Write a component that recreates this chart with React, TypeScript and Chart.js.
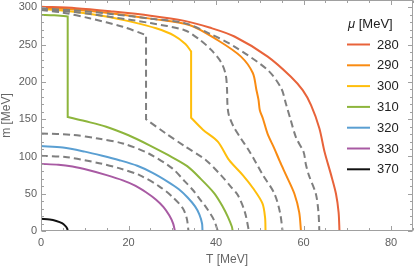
import React, { useEffect, useRef } from "react";
import { Chart, registerables } from "chart.js";

Chart.register(...registerables);

// mu values shown in the legend
const muLabels = ["280", "290", "300", "310", "320", "330", "370"];
const muColors = ["#E8633A", "#F98B12", "#FFBE0B", "#8DB53C", "#5A9FD2", "#A85AA3", "#111111"];

// x tick labels / y tick labels
const xTicks = [0, 20, 40, 60, 80];
const yTicks = [0, 50, 100, 150, 200, 250, 300];

// solid curves: [T (MeV), m (MeV)]
const curve280: [number, number][] = [
  [0, 301], [8, 299], [16.4, 294.5], [25, 289], [32.8, 282], [38.5, 273], [44.2, 261],
  [51.8, 234], [57.1, 207], [59.8, 189], [61.7, 169], [63.6, 138], [64.8, 106],
  [66.3, 75], [67.4, 50], [68, 25], [68.2, 0],
];
const curve290: [number, number][] = [
  [0, 299.5], [8, 297], [16.3, 292], [25, 285], [33.9, 276.5], [40.4, 256], [45.7, 234],
  [48.4, 212], [49.2, 190], [49.7, 176], [50, 162], [50.7, 151], [51.8, 130],
  [53.3, 111], [54.6, 93], [56, 75], [57.9, 50], [59, 25], [59.4, 0],
];
const curve300: [number, number][] = [
  [0, 298], [8, 294], [14.9, 288], [20.5, 281], [26.3, 272], [30.5, 262], [33, 251],
  [34.3, 241], [34.3, 152], [37, 136], [40.4, 120], [43, 95], [46.1, 75], [48.5, 57],
  [50.6, 37], [51.2, 18], [51.3, 0],
];
const curve310: [number, number][] = [
  [0, 290], [3, 289.5], [6.1, 288], [6.1, 153], [10, 147.5], [14.9, 140], [20, 128.5],
  [24.8, 115], [29, 102], [33.4, 87], [36.5, 70], [39.6, 50.6], [41.5, 33], [42.7, 19],
  [43.6, 6], [43.8, 0],
];
const curve320: [number, number][] = [
  [0, 114], [5, 112], [10, 106.5], [14, 101], [17.9, 95], [22, 87.5], [25.5, 78],
  [29, 66], [31.5, 56], [33.5, 45], [35.2, 33], [36.2, 22], [36.8, 10], [36.9, 0],
];
const curve330: [number, number][] = [
  [0, 90], [4, 89], [7.2, 86.5], [11, 81.5], [15, 75], [18.7, 68], [21.5, 61], [24, 52],
  [26.3, 42], [28, 32], [29.3, 21], [30.2, 10], [30.6, 0],
];
const curve370: [number, number][] = [
  [0, 16.3], [2, 15.5], [3.5, 13.5], [4.8, 10.5], [5.6, 6.5], [6, 3], [6.1, 0],
];

// dashed gray curves between neighbouring solid curves
const dashA: [number, number][] = [
  [0, 298.5], [8, 296], [16.4, 291], [25, 285], [32.8, 279], [38.5, 265], [44.2, 247.5],
  [51.8, 216], [54.9, 191.5], [56, 170], [57, 150], [58.3, 125], [60, 106], [60.5, 90],
  [61.2, 75], [62.8, 50], [63.4, 25], [63.6, 0],
];
const dashB: [number, number][] = [
  [0, 297.5], [8, 293.5], [16.3, 287], [25, 279], [32.8, 269.5], [36.2, 257], [38.9, 243],
  [41.2, 226], [42.2, 210], [42.5, 191], [42.6, 170], [42.9, 156], [44, 140], [45.7, 124],
  [47.5, 108], [48.8, 95], [50.7, 75], [53.3, 50.6], [54.6, 25], [55.2, 0],
];
const dashC: [number, number][] = [
  [0, 296.5], [5, 293], [11.1, 285.5], [18.7, 274], [24, 263], [24, 150], [28.5, 131],
  [32.8, 114], [37.7, 95], [41.1, 75], [43.3, 60], [45, 48], [46.6, 25], [47.5, 0],
];
const dashD: [number, number][] = [
  [0, 131], [7.2, 129], [13, 124], [18.7, 117.5], [24.6, 104], [30, 84], [32.8, 67],
  [34.7, 55], [36.5, 41], [37.7, 32], [39.5, 15], [40.4, 0],
];
const dashE: [number, number][] = [
  [0, 101], [6, 99], [13.3, 91], [18, 84], [22.5, 75], [27, 60], [30, 46], [32.4, 30.5],
  [33.3, 17], [33.7, 0],
];

const solidCurves = [curve280, curve290, curve300, curve310, curve320, curve330, curve370];
const dashedCurves = [dashA, dashB, dashC, dashD, dashE];

const FONT = '"Liberation Sans", Arial, sans-serif';

// Points on both ends of an exactly vertical jump are doubled so the spline
// keeps a sharp corner there instead of bowing.
function toPts(c: [number, number][]) {
  const out: { x: number; y: number }[] = [];
  c.forEach(([x, y], i) => {
    out.push({ x, y });
    const prevSame = i > 0 && c[i - 1][0] === x;
    const nextSame = i < c.length - 1 && c[i + 1][0] === x;
    if ((prevSame || nextSame) && y !== 0) out.push({ x, y });
  });
  return out;
}

export default function App() {
  const ref = useRef<HTMLCanvasElement | null>(null);

  useEffect(() => {
    if (!ref.current) return;

    const datasets: any[] = [];
    dashedCurves.forEach((c) => {
      datasets.push({
        data: toPts(c),
        showLine: true,
        borderColor: "#7F7F7F",
        borderWidth: 2,
        borderDash: [7, 4],
        pointRadius: 0,
        tension: 0.3,
        fill: false,
      });
    });
    solidCurves.forEach((c, i) => {
      datasets.push({
        label: muLabels[i],
        data: toPts(c),
        showLine: true,
        borderColor: muColors[i],
        borderWidth: 2,
        pointRadius: 0,
        tension: 0.3,
        fill: false,
      });
    });

    const framePlugin = {
      id: "framePlugin",
      afterDraw(chart: any) {
        const { ctx, chartArea } = chart;
        const xs = chart.scales.x;
        const ys = chart.scales.y;
        const L = chartArea.left + 0.5;
        const R = chartArea.right - 0.5;
        const T = chartArea.top + 0.5;
        const B = chartArea.bottom - 0.5;
        ctx.save();
        ctx.strokeStyle = "#A0A0A0";
        ctx.lineWidth = 1;
        ctx.strokeRect(L, T, R - L, B - T);
        ctx.beginPath();
        for (let v = 0; v <= 85; v += 5) {
          const px = Math.round(xs.getPixelForValue(v)) + 0.5;
          const len = v % 20 === 0 ? 4.5 : 2.5;
          ctx.moveTo(px, B);
          ctx.lineTo(px, B - len);
          ctx.moveTo(px, T);
          ctx.lineTo(px, T + len);
        }
        for (let v = 0; v <= 310; v += 10) {
          const py = Math.round(ys.getPixelForValue(v)) + 0.5;
          const len = v % 50 === 0 ? 4.5 : 2.5;
          ctx.moveTo(L, py);
          ctx.lineTo(L + len, py);
          ctx.moveTo(R, py);
          ctx.lineTo(R - len, py);
        }
        ctx.stroke();

        // axis titles
        ctx.fillStyle = "#666666";
        ctx.font = `12px ${FONT}`;
        ctx.textAlign = "center";
        ctx.textBaseline = "middle";
        ctx.fillText("T [MeV]", (chartArea.left + chartArea.right) / 2, 260);
        ctx.save();
        ctx.translate(7, (chartArea.top + chartArea.bottom) / 2);
        ctx.rotate(-Math.PI / 2);
        ctx.fillText("m [MeV]", 0, 0);
        ctx.restore();

        // legend
        ctx.fillStyle = "#222222";
        ctx.textAlign = "left";
        ctx.font = `italic 13px ${FONT}`;
        ctx.fillText("\u03bc", 348, 24);
        const muW = ctx.measureText("\u03bc").width;
        ctx.font = `13px ${FONT}`;
        ctx.fillText(" [MeV]", 348 + muW, 24);
        muLabels.forEach((lab, i) => {
          const y = 44.5 + i * 20.8;
          ctx.strokeStyle = muColors[i];
          ctx.lineWidth = 2;
          ctx.beginPath();
          ctx.moveTo(347, y);
          ctx.lineTo(370, y);
          ctx.stroke();
          ctx.fillStyle = "#222222";
          ctx.fillText(lab, 377, y + 0.5);
        });
        ctx.restore();
      },
    };

    const chart = new Chart(ref.current, {
      type: "scatter",
      data: { datasets },
      options: {
        animation: false,
        responsive: false,
        devicePixelRatio: 1,
        layout: { padding: { top: 0, right: 2, left: 0, bottom: 0 } },
        plugins: { legend: { display: false }, tooltip: { enabled: false } },
        scales: {
          x: {
            type: "linear",
            min: 0,
            max: 85,
            afterFit: (s: any) => {
              s.height = 37;
              s.paddingLeft = 0;
              s.paddingRight = 0;
            },
            afterBuildTicks: (s: any) => {
              s.ticks = xTicks.map((v) => ({ value: v }));
            },
            grid: { display: false, drawTicks: false },
            border: { display: false },
            ticks: {
              color: "#5F5F5F",
              font: { size: 11, family: FONT },
              padding: 5,
              maxRotation: 0,
              autoSkip: false,
            },
          },
          y: {
            type: "linear",
            min: 0,
            max: 310,
            afterFit: (s: any) => {
              s.width = 41;
              s.paddingTop = 0;
              s.paddingBottom = 0;
            },
            afterBuildTicks: (s: any) => {
              s.ticks = yTicks.map((v) => ({ value: v }));
            },
            grid: { display: false, drawTicks: false },
            border: { display: false },
            ticks: {
              color: "#5F5F5F",
              font: { size: 11, family: FONT },
              padding: 4,
              autoSkip: false,
            },
          },
        },
      },
      plugins: [framePlugin],
    });
    return () => chart.destroy();
  }, []);

  return (
    <div style={{ position: "fixed", left: 0, top: 0, width: 415, height: 268, background: "#fff" }}>
      <canvas ref={ref} width={415} height={268} style={{ display: "block" }} />
    </div>
  );
}
